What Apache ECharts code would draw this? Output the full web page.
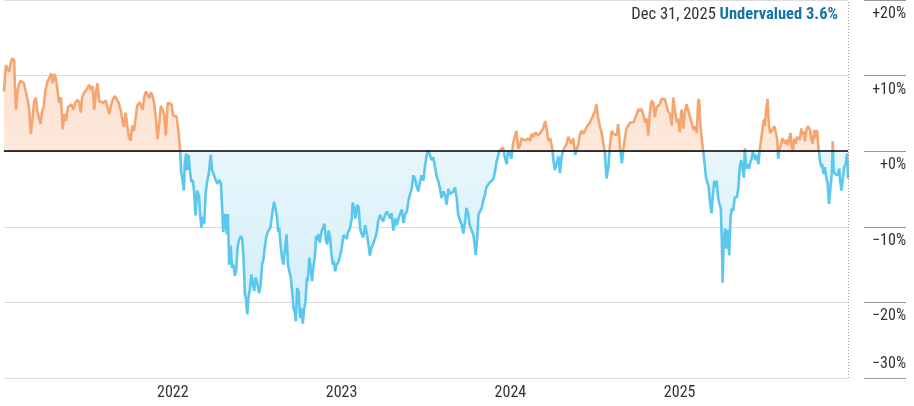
<!DOCTYPE html>
<html>
<head>
<meta charset="utf-8">
<script src="https://cdn.jsdelivr.net/npm/echarts@6/dist/echarts.min.js"></script>
<style>
html,body{margin:0;padding:0;background:#fff;}
#chart{width:914px;height:406px;}
</style>
</head>
<body>
<div id="chart"></div>
<script>
// ---- data ----
const dates2021 = ['2021-01-01','2021-01-05','2021-01-08','2021-01-12','2021-01-18','2021-01-23','2021-01-25','2021-01-27','2021-01-30','2021-02-02','2021-02-06','2021-02-10','2021-02-13','2021-02-17','2021-02-21','2021-02-24','2021-02-28','2021-03-04','2021-03-07','2021-03-11','2021-03-14','2021-03-18','2021-03-21','2021-03-25','2021-03-28','2021-03-31','2021-04-05','2021-04-09','2021-04-13','2021-04-16','2021-04-20','2021-04-23','2021-04-27','2021-04-30','2021-05-04','2021-05-08','2021-05-11','2021-05-15','2021-05-19','2021-05-22','2021-05-27','2021-05-31','2021-06-04','2021-06-09','2021-06-13','2021-06-16','2021-06-19','2021-06-23','2021-06-27','2021-07-01','2021-07-04','2021-07-08','2021-07-12','2021-07-15','2021-07-19','2021-07-22','2021-07-26','2021-07-30','2021-08-04','2021-08-09','2021-08-13','2021-08-17','2021-08-20','2021-08-24','2021-08-29','2021-09-02','2021-09-06','2021-09-10','2021-09-14','2021-09-17','2021-09-21','2021-09-25','2021-09-28','2021-10-02','2021-10-05','2021-10-09','2021-10-13','2021-10-16','2021-10-21','2021-10-24','2021-10-28','2021-10-31','2021-11-04','2021-11-08','2021-11-11','2021-11-15','2021-11-19','2021-11-22','2021-11-26','2021-11-29','2021-12-03','2021-12-06','2021-12-10','2021-12-13','2021-12-17','2021-12-21','2021-12-24','2021-12-29'];
const values2021 = [7.9,11.4,11.6,10.5,12.3,12.0,7.9,5.5,7.9,8.8,9.3,9.5,9.0,7.9,6.8,5.8,2.3,4.5,6.6,7.1,5.3,5.5,3.6,5.5,5.8,7.9,9.2,9.7,10.3,9.0,10.2,9.7,7.9,6.4,7.1,2.9,4.9,4.0,5.8,6.0,6.2,5.5,6.4,6.8,6.4,5.1,7.1,7.7,7.5,8.4,8.8,8.1,8.6,5.5,7.9,9.0,6.6,6.4,6.4,6.7,6.6,4.9,6.0,6.8,7.3,7.4,6.4,5.5,5.3,3.2,5.1,3.2,1.9,1.4,3.4,2.7,4.5,6.0,6.5,6.6,5.5,7.1,7.9,7.4,7.0,7.8,7.1,6.2,4.0,1.6,3.8,6.0,5.5,4.9,2.1,6.4,6.6,6.2];

const dates2022 = ['2022-01-02','2022-01-09','2022-01-13','2022-01-17','2022-01-19','2022-01-22','2022-01-25','2022-01-27','2022-01-30','2022-02-01','2022-02-04','2022-02-07','2022-02-10','2022-02-13','2022-02-16','2022-02-19','2022-02-23','2022-02-27','2022-03-01','2022-03-04','2022-03-07','2022-03-10','2022-03-13','2022-03-16','2022-03-20','2022-03-22','2022-03-24','2022-03-27','2022-03-31','2022-04-04','2022-04-07','2022-04-12','2022-04-15','2022-04-18','2022-04-20','2022-04-24','2022-04-28','2022-04-30','2022-05-03','2022-05-06','2022-05-09','2022-05-12','2022-05-15','2022-05-18','2022-05-21','2022-05-24','2022-05-28','2022-05-31','2022-06-03','2022-06-06','2022-06-08','2022-06-11','2022-06-14','2022-06-17','2022-06-20','2022-06-23','2022-06-26','2022-06-29','2022-07-01','2022-07-04','2022-07-07','2022-07-10','2022-07-13','2022-07-16','2022-07-19','2022-07-22','2022-07-25','2022-07-28','2022-07-31','2022-08-02','2022-08-05','2022-08-08','2022-08-11','2022-08-14','2022-08-17','2022-08-19','2022-08-22','2022-08-25','2022-08-28','2022-08-31','2022-09-04','2022-09-07','2022-09-10','2022-09-13','2022-09-16','2022-09-19','2022-09-22','2022-09-24','2022-09-27','2022-09-30','2022-10-03','2022-10-06','2022-10-09','2022-10-12','2022-10-15','2022-10-18','2022-10-20','2022-10-23','2022-10-26','2022-10-29','2022-11-01','2022-11-04','2022-11-07','2022-11-09','2022-11-12','2022-11-15','2022-11-19','2022-11-22','2022-11-25','2022-11-28','2022-12-01','2022-12-04','2022-12-07','2022-12-10','2022-12-13','2022-12-15','2022-12-18','2022-12-21','2022-12-25','2022-12-28'];
const values2022 = [4.7,4.6,2.8,0,-2.7,-3.8,-5.2,-1.6,-0.3,-2.5,-0.5,-2.5,-4.1,-3.8,-5.2,-8.5,-5.2,-6.1,-8.3,-10.1,-8.7,-9.6,-5.6,-4.1,-2.9,-2.7,-0.5,-2.5,-2.7,-3.8,-4.3,-3.8,-4.3,-7.8,-10.7,-8.3,-11.0,-8.3,-15.0,-12.5,-15.4,-15.0,-16.5,-15.9,-12.7,-11.8,-11.2,-11.6,-14.1,-19.0,-19.4,-21.6,-19.2,-18.1,-16.3,-17.6,-18.5,-16.7,-16.5,-17.9,-18.8,-17.6,-15.0,-14.3,-12.7,-11.4,-10.7,-10.5,-10.1,-10.1,-7.8,-6.7,-6.9,-8.5,-10.7,-10.1,-12.3,-14.1,-15.0,-15.2,-11.0,-15.0,-15.9,-16.7,-18.5,-20.8,-21.4,-22.5,-18.1,-18.5,-22.1,-20.8,-22.8,-20.8,-19.9,-16.7,-17.2,-14.1,-15.2,-17.2,-15.2,-14.1,-11.2,-11.8,-11.0,-12.1,-10.5,-10.1,-9.6,-11.8,-12.3,-10.5,-11.4,-13.6,-15.0,-14.5,-15.9,-15.0,-14.7,-14.0];

const dates2023 = ['2023-01-01','2023-01-05','2023-01-08','2023-01-12','2023-01-15','2023-01-19','2023-01-23','2023-01-25','2023-01-28','2023-01-31','2023-02-04','2023-02-07','2023-02-10','2023-02-13','2023-02-17','2023-02-21','2023-02-24','2023-02-28','2023-03-03','2023-03-07','2023-03-10','2023-03-14','2023-03-18','2023-03-21','2023-03-25','2023-03-28','2023-04-01','2023-04-05','2023-04-09','2023-04-12','2023-04-16','2023-04-19','2023-04-23','2023-04-27','2023-04-30','2023-05-04','2023-05-07','2023-05-11','2023-05-15','2023-05-18','2023-05-22','2023-05-26','2023-05-29','2023-06-02','2023-06-05','2023-06-09','2023-06-12','2023-06-16','2023-06-20','2023-06-23','2023-06-27','2023-06-30','2023-07-04','2023-07-07','2023-07-11','2023-07-15','2023-07-18','2023-07-22','2023-07-26','2023-07-29','2023-08-02','2023-08-05','2023-08-09','2023-08-13','2023-08-16','2023-08-20','2023-08-23','2023-08-27','2023-08-31','2023-09-03','2023-09-07','2023-09-10','2023-09-14','2023-09-18','2023-09-21','2023-09-25','2023-09-28','2023-10-02','2023-10-05','2023-10-09','2023-10-13','2023-10-16','2023-10-18','2023-10-21','2023-10-24','2023-10-27','2023-10-31','2023-11-03','2023-11-07','2023-11-10','2023-11-14','2023-11-18','2023-11-21','2023-11-25','2023-11-29','2023-12-02','2023-12-06','2023-12-09','2023-12-13','2023-12-16','2023-12-20','2023-12-24','2023-12-27','2023-12-31'];
const values2023 = [-12.9,-11.1,-10.9,-11.6,-10.7,-10.2,-8.9,-6.8,-7.5,-8.9,-7.1,-7.5,-10.2,-10.9,-11.4,-9.8,-10.7,-12.3,-13.8,-12.7,-12.3,-11.6,-10.7,-9.3,-8.4,-8.9,-9.3,-8.4,-8.0,-8.2,-8.9,-8.2,-10.5,-8.9,-9.8,-8.9,-9.1,-7.7,-9.5,-8.4,-8.0,-6.4,-6.2,-4.8,-3.2,-3.7,-4.6,-5.3,-3.9,-3.2,-3.9,-2.1,-0.5,0.1,-0.5,-1.2,-0.8,-2.1,-3.5,-3.9,-5.0,-6.2,-5.3,-5.9,-7.1,-5.0,-5.7,-5.5,-5.3,-4.8,-6.2,-8.4,-9.1,-9.8,-10.9,-9.3,-7.5,-8.4,-9.8,-10.0,-11.1,-12.5,-13.7,-11.6,-8.4,-8.4,-7.5,-6.6,-5.7,-4.8,-4.4,-4.1,-4.1,-3.7,-2.6,-1.4,-0.5,0.1,0.2,0.5,-0.8,-1.7,0.1,-0.3];

const dates2024 = ['2024-01-03','2024-01-07','2024-01-11','2024-01-14','2024-01-18','2024-01-22','2024-01-25','2024-01-29','2024-02-02','2024-02-05','2024-02-09','2024-02-13','2024-02-16','2024-02-20','2024-02-24','2024-02-27','2024-03-01','2024-03-05','2024-03-09','2024-03-12','2024-03-16','2024-03-20','2024-03-23','2024-03-27','2024-03-31','2024-04-03','2024-04-06','2024-04-10','2024-04-14','2024-04-17','2024-04-21','2024-04-24','2024-04-28','2024-05-02','2024-05-05','2024-05-09','2024-05-12','2024-05-16','2024-05-20','2024-05-23','2024-05-27','2024-05-30','2024-06-03','2024-06-07','2024-06-10','2024-06-14','2024-06-18','2024-06-21','2024-06-25','2024-06-29','2024-07-02','2024-07-05','2024-07-09','2024-07-13','2024-07-16','2024-07-20','2024-07-23','2024-07-27','2024-07-31','2024-08-03','2024-08-07','2024-08-10','2024-08-14','2024-08-18','2024-08-21','2024-08-25','2024-08-29','2024-09-01','2024-09-05','2024-09-08','2024-09-12','2024-09-16','2024-09-19','2024-09-23','2024-09-27','2024-09-30','2024-10-04','2024-10-07','2024-10-11','2024-10-14','2024-10-18','2024-10-22','2024-10-25','2024-10-29','2024-11-01','2024-11-05','2024-11-08','2024-11-12','2024-11-16','2024-11-19','2024-11-23','2024-11-27','2024-11-30','2024-12-04','2024-12-07','2024-12-11','2024-12-15','2024-12-18','2024-12-22','2024-12-26','2024-12-29'];
const values2024 = [-1.0,1.1,2.0,2.7,0.3,0.8,1.7,1.9,1.4,1.2,1.7,1.4,2.3,1.9,2.5,2.7,2.1,2.3,2.7,3.0,4.0,2.7,1.4,1.7,0.6,-1.2,-2.5,-1.6,-0.7,-2.9,-0.7,0.1,0.3,1.0,1.9,1.9,1.0,1.7,-0.5,0.1,1.0,2.1,2.7,2.3,2.5,3.2,3.0,3.8,4.3,4.9,5.3,6.2,4.3,3.2,2.5,2.3,-0.1,-3.6,-2.0,0.6,2.7,2.3,2.5,2.1,3.6,0.6,-1.6,0.1,1.9,3.0,3.4,3.8,3.6,3.8,3.6,4.9,5.6,5.3,5.6,4.9,3.8,4.3,2.1,5.3,6.7,6.4,4.5,5.8,5.8,6.2,6.9,6.7,6.9,6.0,5.3,4.9,3.4,7.1,5.3,3.8,4.3];

const dates2025 = ['2025-01-01','2025-01-05','2025-01-09','2025-01-12','2025-01-16','2025-01-20','2025-01-23','2025-01-27','2025-01-31','2025-02-03','2025-02-07','2025-02-10','2025-02-12','2025-02-15','2025-02-18','2025-02-21','2025-02-24','2025-02-27','2025-03-02','2025-03-05','2025-03-08','2025-03-11','2025-03-14','2025-03-17','2025-03-19','2025-03-22','2025-03-25','2025-03-28','2025-03-31','2025-04-02','2025-04-04','2025-04-06','2025-04-09','2025-04-12','2025-04-15','2025-04-18','2025-04-21','2025-04-24','2025-04-27','2025-04-30','2025-05-02','2025-05-05','2025-05-08','2025-05-11','2025-05-14','2025-05-17','2025-05-20','2025-05-22','2025-05-25','2025-05-28','2025-05-31','2025-06-03','2025-06-06','2025-06-08','2025-06-11','2025-06-14','2025-06-17','2025-06-20','2025-06-23','2025-06-26','2025-06-29','2025-07-02','2025-07-04','2025-07-07','2025-07-10','2025-07-13','2025-07-16','2025-07-19','2025-07-22','2025-07-25','2025-07-28','2025-07-31','2025-08-02','2025-08-05','2025-08-08','2025-08-11','2025-08-14','2025-08-17','2025-08-20','2025-08-23','2025-08-26','2025-08-29','2025-08-31','2025-09-03','2025-09-06','2025-09-09','2025-09-12','2025-09-15','2025-09-18','2025-09-21','2025-09-23','2025-09-26','2025-09-29','2025-10-02','2025-10-05','2025-10-07','2025-10-10','2025-10-13','2025-10-16','2025-10-19','2025-10-22','2025-10-25','2025-10-28','2025-10-31','2025-11-03','2025-11-05','2025-11-08','2025-11-11','2025-11-14','2025-11-17','2025-11-20','2025-11-23','2025-11-26','2025-11-28','2025-11-30','2025-12-03','2025-12-06','2025-12-09','2025-12-12','2025-12-14','2025-12-17','2025-12-20','2025-12-23','2025-12-26','2025-12-29','2025-12-31'];
const values2025 = [2.5,5.5,3.0,5.1,6.2,6.4,4.6,3.7,2.8,3.3,2.4,6.6,6.9,3.3,1.5,0,-1.7,-3.5,-3.5,-4.8,-7.0,-8.2,-5.7,-3.9,-4.8,-3.9,-6.1,-7.0,-7.5,-11.5,-17.4,-12.4,-10.2,-12.9,-10.4,-13.8,-8.8,-7.5,-7.9,-6.1,-5.9,-6.1,-4.8,-2.1,-1.2,-1.0,-3.5,0.4,-2.3,-1.7,-2.3,-1.4,-1.0,-0.1,-0.5,-1.2,-0.5,-1.7,0.1,1.5,2.8,4.2,3.3,5.5,6.9,3.3,2.4,2.6,3.0,3.3,3.5,1.5,-1.0,0.4,0.8,1.7,1.9,1.0,1.5,0.8,1.7,2.4,0.6,0.1,1.7,1.0,1.9,1.7,1.5,3.0,2.2,2.6,1.3,2.8,3.3,3.5,2.8,1.5,1.0,2.8,1.7,2.8,0.6,-1.0,-2.1,-1.7,-3.0,-2.1,-3.5,-4.3,-7.0,-4.8,-3.0,1.3,-2.6,-3.0,-2.8,-3.2,-2.3,-3.9,-5.2,-3.5,-2.1,-1.7,-0.3,-3.6];

const yTicks = [-30, -20, -10, 0, 10, 20];
const xStart = '2021-01-01';
const xEnd = '2025-12-31';
const headDate = 'Dec 31, 2025';
const headStatus = 'Undervalued 3.6%';

// ---- build ----
const dates = [].concat(dates2021, dates2022, dates2023, dates2024, dates2025);
const values = [].concat(values2021, values2022, values2023, values2024, values2025);
const seriesData = dates.map((d, i) => [d, values[i]]);

const FONT = "'Roboto Condensed','Liberation Sans Narrow','DejaVu Sans Condensed','Arial Narrow',Roboto,sans-serif";
const ORANGE = '#f5a670';
const BLUE = '#5cc7ec';

const GRID_TOP = 0, GRID_BOTTOM = 28, H = 406;
const plotH = H - GRID_TOP - GRID_BOTTOM;
const yMin = yTicks[0], yMax = yTicks[yTicks.length - 1];
const zeroFrac = (yMax - 0) / (yMax - yMin); // where 0 sits in the plot, from top

function pct(v) {
  if (v > 0) return '+' + v + '%';
  if (v === 0) return '+0%';
  return '\u2212' + Math.abs(v) + '%';
}

function splitGradient(topA, zeroA, zeroB, bottomB) {
  return {
    type: 'linear', x: 0, y: GRID_TOP, x2: 0, y2: GRID_TOP + plotH, global: true,
    colorStops: [
      {offset: 0, color: topA},
      {offset: zeroFrac, color: zeroA},
      {offset: zeroFrac, color: zeroB},
      {offset: 1, color: bottomB}
    ]
  };
}

const chart = echarts.init(document.getElementById('chart'), null, {renderer: 'canvas'});
chart.setOption({
  animation: false,
  backgroundColor: '#fff',
  textStyle: {fontFamily: FONT},
  title: {
    text: '{a|' + headDate + ' }{b|' + headStatus + '}',
    right: 76,
    top: 6,
    padding: 0,
    textStyle: {
      fontWeight: 'normal',
      rich: {
        a: {fontFamily: FONT, fontSize: 16.5, color: '#333', fontWeight: 'normal'},
        b: {fontFamily: FONT, fontSize: 16.5, color: '#1a73a7', fontWeight: 'bold'}
      }
    }
  },
  grid: {left: 4, right: 66, top: GRID_TOP, bottom: GRID_BOTTOM, containLabel: false},
  xAxis: {
    type: 'time',
    min: xStart,
    max: xEnd,
    splitNumber: 5,
    axisLine: {show: true, lineStyle: {color: '#999', width: 1}},
    axisTick: {show: false},
    splitLine: {show: false},
    axisLabel: {
      color: '#333',
      fontFamily: FONT,
      fontSize: 16,
      margin: 7,
      showMinLabel: false,
      showMaxLabel: false,
      formatter: function (val) {
        const d = new Date(val);
        if (d.getMonth() === 0 && d.getDate() === 1 && d.getFullYear() > 2021) return String(d.getFullYear());
        return '';
      }
    }
  },
  yAxis: {
    type: 'value',
    position: 'right',
    offset: 16,
    min: yMin,
    max: yMax,
    interval: 10,
    axisLine: {show: false},
    axisTick: {show: true, length: 42, lineStyle: {color: '#999', width: 1}},
    splitLine: {show: true, lineStyle: {color: '#dcdcdc', width: 1}},
    axisLabel: {
      color: '#333',
      fontFamily: FONT,
      fontSize: 16,
      align: 'right',
      margin: 42,
      verticalAlign: 'top',
      verticalAlignMinLabel: 'bottom',
      padding: [6, 0, 6, 0],
      formatter: pct
    }
  },
  series: [{
    type: 'line',
    data: seriesData,
    showSymbol: false,
    symbol: 'none',
    lineStyle: {width: 2.6, color: splitGradient(ORANGE, ORANGE, BLUE, BLUE)},
    itemStyle: {color: BLUE},
    areaStyle: {
      color: splitGradient('#fcdfcb', '#fde8db', '#e7f6fc', '#cdecf8'),
      opacity: 1
    },
    markLine: {
      silent: true,
      symbol: 'none',
      label: {show: false},
      animation: false,
      data: [
        {yAxis: 0, lineStyle: {color: '#000', width: 1.5, type: 'solid'}}
      ]
    }
  }, {
    type: 'line',
    data: [],
    silent: true,
    markLine: {
      silent: true,
      symbol: 'none',
      label: {show: false},
      animation: false,
      data: [
        {xAxis: echarts.time.parse(xEnd).getTime(), lineStyle: {color: '#999', width: 1, type: [1, 2]}}
      ]
    }
  }]
});
</script>
</body>
</html>
